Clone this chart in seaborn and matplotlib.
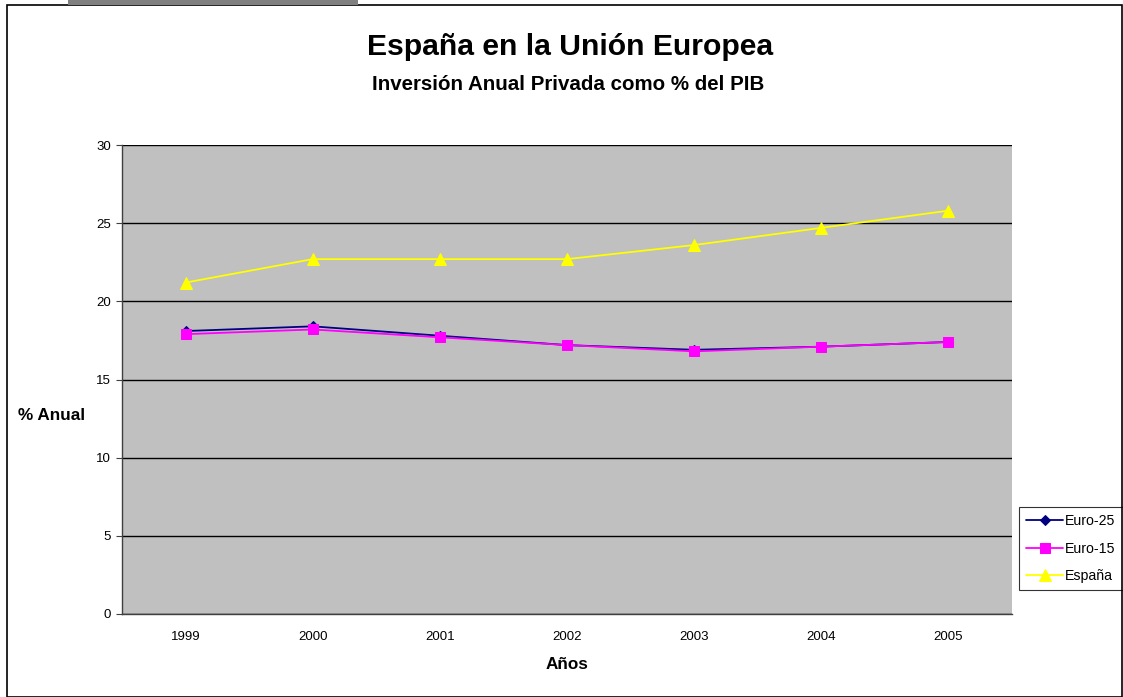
import matplotlib
matplotlib.use("Agg")
import matplotlib.pyplot as plt
import matplotlib.patches as mpatches
from matplotlib.ticker import FixedLocator, NullFormatter
import seaborn as sns
import pandas as pd

years = ["1999", "2000", "2001", "2002", "2003", "2004", "2005"]
euro25 = [18.1, 18.4, 17.8, 17.2, 16.9, 17.1, 17.4]
euro15 = [17.9, 18.2, 17.7, 17.2, 16.8, 17.1, 17.4]
espana = [21.2, 22.7, 22.7, 22.7, 23.6, 24.7, 25.8]
series_names = ["Euro-25", "Euro-15", "España"]

rows = []
for name, vals in zip(series_names, [euro25, euro15, espana]):
    for i, (yr, v) in enumerate(zip(years, vals)):
        rows.append({"pos": i, "Año": yr, "Serie": name, "Valor": v})
df = pd.DataFrame(rows)

sns.set_theme(style="white")
plt.rcParams["font.family"] = ["Liberation Sans", "DejaVu Sans"]
plt.rcParams["text.color"] = "black"
plt.rcParams["axes.labelcolor"] = "black"
plt.rcParams["xtick.color"] = "black"
plt.rcParams["ytick.color"] = "black"

W, H = 1123, 697
fig = plt.figure(figsize=(W / 100, H / 100), dpi=100)

# outer chart frame and the grey tab along the top edge
fig.patches.append(mpatches.Rectangle((7 / W, 0), (W - 8) / W, (H - 5) / H,
                                      transform=fig.transFigure, fill=False,
                                      edgecolor="black", linewidth=1.2))
fig.patches.append(mpatches.Rectangle((68 / W, (H - 5) / H), 290 / W, 5 / H,
                                      transform=fig.transFigure, facecolor="#808080",
                                      edgecolor="none"))

ax = fig.add_axes([122 / W, 1 - 614 / H, 890 / W, 469 / H])
ax.set_facecolor("#c0c0c0")

palette = {"Euro-25": "#000080", "Euro-15": "#ff00ff", "España": "#ffff00"}
markers = {"Euro-25": "D", "Euro-15": "s", "España": "^"}
sizes = {"Euro-25": 5, "Euro-15": 7, "España": 9}

for name in series_names:
    sub = df[df["Serie"] == name]
    sns.lineplot(data=sub, x="pos", y="Valor", ax=ax, color=palette[name],
                 marker=markers[name], markersize=sizes[name],
                 markeredgecolor=palette[name], linewidth=1.3, label=name,
                 zorder=3)

ax.set_xlim(-0.5, 6.5)
ax.set_ylim(0, 30)
ax.set_yticks(range(0, 31, 5))
ax.yaxis.grid(True, color="black", linewidth=1)
ax.xaxis.grid(False)
ax.set_axisbelow(True)

ax.set_xticks(range(len(years)))
ax.set_xticklabels(years)
ax.xaxis.set_minor_locator(FixedLocator([i - 0.5 for i in range(len(years) + 1)]))
ax.xaxis.set_minor_formatter(NullFormatter())
ax.tick_params(axis="x", which="major", length=0, pad=12, labelsize=9.5)
ax.tick_params(axis="x", which="minor", length=4, width=0.8, color="#404040",
               direction="out")
ax.tick_params(axis="y", length=4, width=0.8, color="#404040", direction="out",
               labelsize=9.5, pad=4, left=True)

for side in ["top", "right"]:
    ax.spines[side].set_visible(False)
for side in ["left", "bottom"]:
    ax.spines[side].set_color("#404040")
    ax.spines[side].set_linewidth(1)

ax.set_xlabel("Años", fontsize=12.3, fontweight="bold", labelpad=10)
ax.set_ylabel("")
fig.text(52 / W, 1 - 416 / H, "% Anual", fontsize=12.3, fontweight="bold",
         ha="center", va="center")

fig.text(570 / W, 1 - 47 / H, "España en la Unión Europea",
         fontsize=21.7, fontweight="bold", ha="center", va="center")
fig.text(568 / W, 1 - 84 / H, "Inversión Anual Privada como % del PIB",
         fontsize=14.8, fontweight="bold", ha="center", va="center")

leg = ax.legend(loc="upper left", bbox_to_anchor=(1019 / W, 1 - 507 / H),
                bbox_transform=fig.transFigure, frameon=True, fancybox=False,
                fontsize=10.2, handlelength=2.6, borderpad=0.5, labelspacing=0.95,
                handletextpad=0.15, borderaxespad=0)
leg.get_frame().set_edgecolor("black")
leg.get_frame().set_linewidth(0.8)
leg.get_frame().set_facecolor("white")

fig.savefig("out.png", dpi=100)
